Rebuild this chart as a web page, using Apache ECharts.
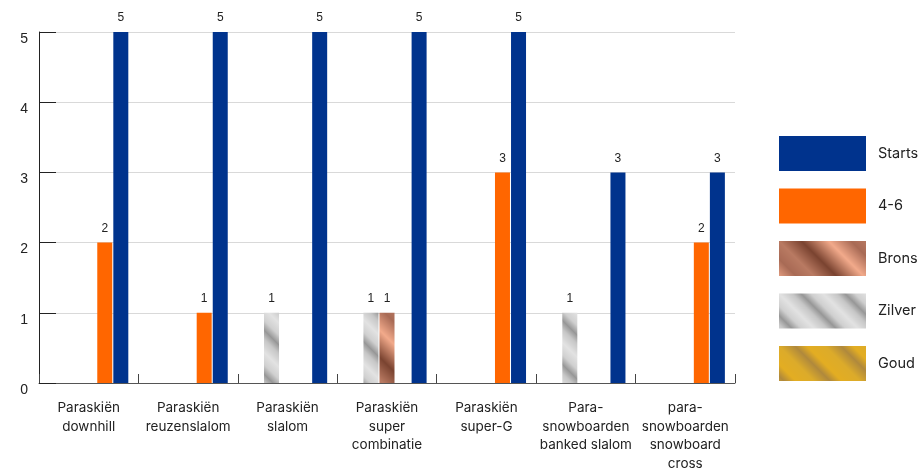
<!DOCTYPE html>
<html>
<head>
<meta charset="utf-8">
<script src="https://cdn.jsdelivr.net/npm/echarts@6/dist/echarts.min.js"></script>
<style>
html,body{margin:0;padding:0;background:#fff;}
#chart{width:919px;height:470px;}
</style>
</head>
<body>
<div id="chart"></div>
<script>
const categories = [
  "Paraskiën\ndownhill",
  "Paraskiën\nreuzenslalom",
  "Paraskiën\nslalom",
  "Paraskiën\nsuper\ncombinatie",
  "Paraskiën\nsuper-G",
  "Para-\nsnowboarden\nbanked slalom",
  "para-\nsnowboarden\nsnowboard\ncross"
];
const goud   = [0, 0, 0, 0, 0, 0, 0];
const zilver = [0, 0, 1, 1, 0, 1, 0];
const brons  = [0, 0, 0, 1, 0, 0, 0];
const plaats4tot6 = [2, 1, 0, 0, 3, 0, 2];
const starts = [5, 5, 5, 5, 5, 3, 3];
const yTicks = [0, 1, 2, 3, 4, 5];

function hexToRgb(h){h=h.replace('#','');return [parseInt(h.substr(0,2),16),parseInt(h.substr(2,2),16),parseInt(h.substr(4,2),16)];}
function makePattern(stops, P){
  const c = document.createElement('canvas');
  c.width = P; c.height = P;
  const ctx = c.getContext('2d');
  const img = ctx.createImageData(P, P);
  const s = stops.map(a => [a[0], hexToRgb(a[1])]);
  for (let y = 0; y < P; y++) {
    for (let x = 0; x < P; x++) {
      const t = (((x - y) % P) + P) % P / P;
      let i = 0;
      while (i < s.length - 2 && t > s[i+1][0]) i++;
      const a = s[i], b = s[i+1];
      const f = (t - a[0]) / (b[0] - a[0] || 1);
      const idx = (y * P + x) * 4;
      for (let k = 0; k < 3; k++) img.data[idx+k] = Math.round(a[1][k] + (b[1][k] - a[1][k]) * f);
      img.data[idx+3] = 255;
    }
  }
  ctx.putImageData(img, 0, 0);
  return { image: c, repeat: 'repeat' };
}

const silverFill = makePattern([[0,'#e2e2e2'],[0.3,'#c6c6c6'],[0.5,'#979797'],[0.72,'#d0d0d0'],[1,'#e2e2e2']], 44);
const bronzeFill = makePattern([[0,'#b97a62'],[0.25,'#7a4330'],[0.55,'#f2aa8b'],[0.8,'#a86a55'],[1,'#b97a62']], 90);
const goldFill   = makePattern([[0,'#dcab2a'],[0.35,'#b0893c'],[0.6,'#e3ad22'],[1,'#dcab2a']], 46);

const labelOpt = {
  show: true, position: 'top', distance: 8,
  fontFamily: 'Liberation Sans, Arial, sans-serif', fontSize: 12, color: '#222',
  formatter: p => p.value === 0 ? '' : String(p.value)
};

function barSeries(name, data, color){
  return { name, type: 'bar', data, barWidth: 15, barGap: '7%',
    itemStyle: { color }, label: labelOpt, emphasis: { disabled: true } };
}

const chart = echarts.init(document.getElementById('chart'), null, { renderer: 'canvas' });
chart.setOption({
  animation: false,
  backgroundColor: '#fff',
  grid: { left: 39, right: 184, top: 32, bottom: 87, containLabel: false, outerBoundsMode: 'none' },
  legend: {
    orient: 'vertical', left: 774, top: 131,
    itemWidth: 87, itemHeight: 35, itemGap: 17.5,
    data: ['Starts', '4-6', 'Brons', 'Zilver', 'Goud'],
    icon: 'rect',
    textStyle: { fontFamily: 'Inter, Noto Sans, sans-serif', fontSize: 14.5, color: '#222', padding: [16, 0, 0, 7] }
  },
  xAxis: {
    type: 'category', data: categories,
    axisLine: { lineStyle: { color: '#555', width: 1 } },
    axisTick: { show: true, inside: true, length: 9, alignWithLabel: false, lineStyle: { color: '#444' } },
    axisLabel: { interval: 0, margin: 16, fontFamily: 'Inter, Noto Sans, sans-serif', fontSize: 13.5, lineHeight: 18.5, color: '#222', align: 'center' }
  },
  yAxis: {
    type: 'value', min: yTicks[0], max: yTicks[yTicks.length-1], interval: 1,
    axisLine: { show: true, lineStyle: { color: '#222', width: 1 } },
    axisTick: { show: true, inside: true, length: 17, lineStyle: { color: '#222' } },
    axisLabel: { margin: 11, fontFamily: 'Liberation Sans, Arial, sans-serif', fontSize: 14, color: '#222', verticalAlign: 'top', padding: [0, 0, 0, 0] },
    splitLine: { show: true, lineStyle: { color: '#d9d9d9', width: 1 } }
  },
  series: [
    barSeries('Goud', goud, goldFill),
    barSeries('Zilver', zilver, silverFill),
    barSeries('Brons', brons, bronzeFill),
    barSeries('4-6', plaats4tot6, '#FF6600'),
    barSeries('Starts', starts, '#00338D')
  ]
});
</script>
</body>
</html>
